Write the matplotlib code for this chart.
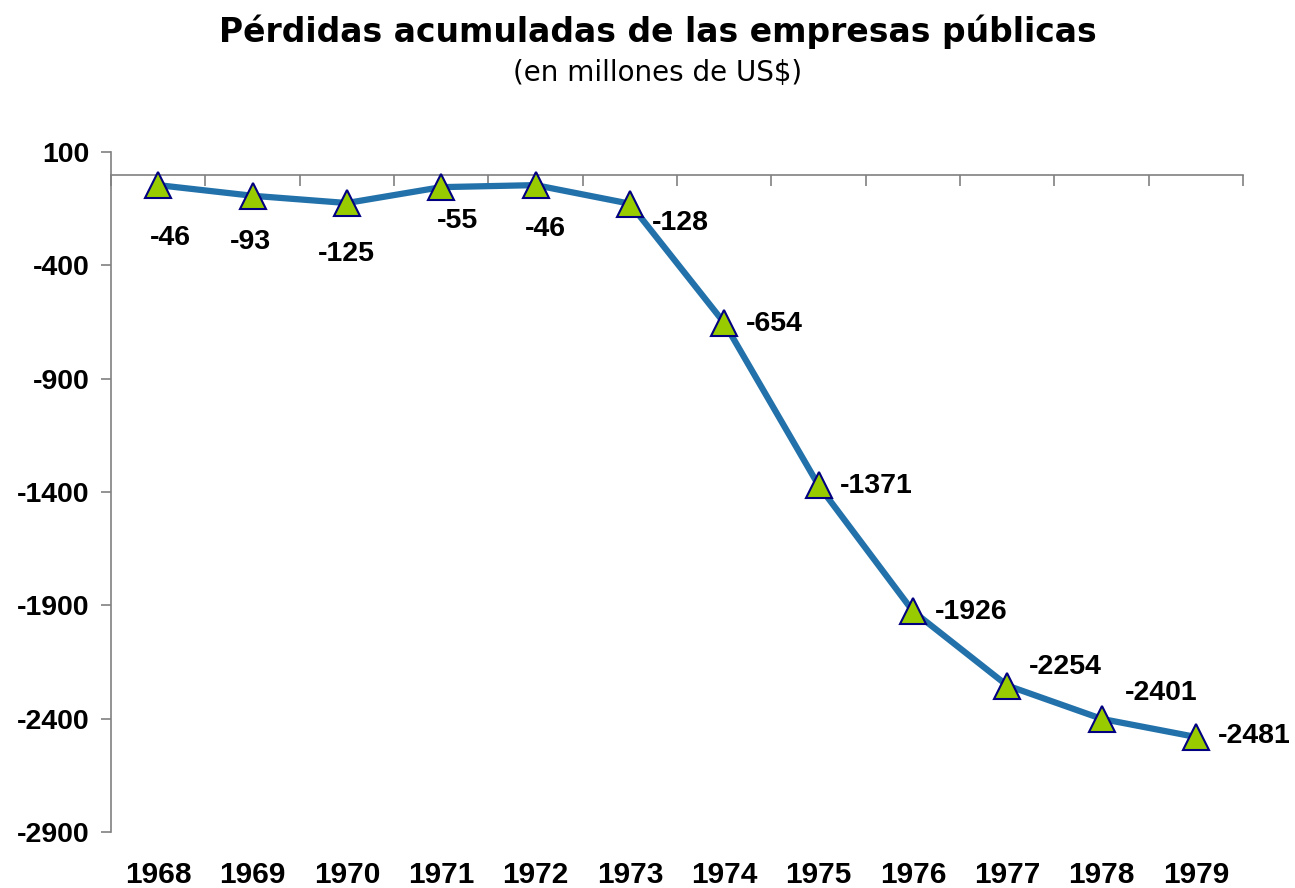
import numpy as np
import matplotlib.pyplot as plt
from matplotlib.transforms import blended_transform_factory

# datos
years = ['1968', '1969', '1970', '1971', '1972', '1973',
         '1974', '1975', '1976', '1977', '1978', '1979']
perdidas = [-46, -93, -125, -55, -46, -128, -654, -1371, -1926, -2254, -2401, -2481]
y_ticks = [100, -400, -900, -1400, -1900, -2400, -2900]

# donde va cada etiqueta respecto al punto (pixeles)
label_offsets = [(12, -53), (-2, -46), (0, -51), (16, -34), (10, -44), (50, -19),
                 (50, -1), (58, -1), (58, -1), (58, 19), (60, 26), (58, 1)]

plt.rcParams['font.family'] = ['Liberation Sans', 'DejaVu Sans']

fig = plt.figure(figsize=(12.95, 8.88), dpi=100)
ax = fig.add_axes([0.0857, 0.0631, 0.8743, 0.7657])

x = np.arange(len(years))
ax.plot(x, perdidas, color='#2271aa', lw=4.5, marker='^', ms=19,
        markerfacecolor='#99cc00', markeredgecolor='#000080', markeredgewidth=1.5,
        zorder=3, clip_on=False)

for xi, v, (dx, dy) in zip(x, perdidas, label_offsets):
    ax.annotate(str(v), (xi, v), xytext=(dx, dy), textcoords='offset pixels',
                ha='center', va='center', fontsize=20.5, fontweight='bold')

ax.set_xlim(-0.5, len(years) - 0.5)
ax.set_ylim(-2900, 100)
ax.set_yticks(y_ticks)
ax.set_yticklabels([str(t) for t in y_ticks], fontsize=20.5, fontweight='bold')
ax.tick_params(axis='y', length=7, width=1.2, color='#808080', pad=8.5)

# eje x en cero, marcas entre categorias
ax.spines['bottom'].set_position(('data', 0))
ax.spines['bottom'].set_color('#808080')
ax.spines['left'].set_color('#808080')
ax.spines['bottom'].set_linewidth(1.2)
ax.spines['left'].set_linewidth(1.2)
ax.spines['top'].set_visible(False)
ax.spines['right'].set_visible(False)
ax.set_xticks(np.arange(len(years) + 1) - 0.5)
ax.set_xticklabels([])
ax.tick_params(axis='x', length=8, width=1.2, color='#808080', direction='out')

trans = blended_transform_factory(ax.transData, ax.transAxes)
for xi, yr in zip(x, years):
    ax.text(xi, -0.064, yr, transform=trans, ha='center', va='center',
            fontsize=21.5, fontweight='bold')

fig.text(0.508, 0.964, 'Pérdidas acumuladas de las empresas públicas',
         ha='center', va='center', fontsize=23.8, fontweight='bold', family='DejaVu Sans')
fig.text(0.508, 0.918, '(en millones de US$)', ha='center', va='center',
         fontsize=20, family='DejaVu Sans')

fig.savefig('out.png', dpi=100)
